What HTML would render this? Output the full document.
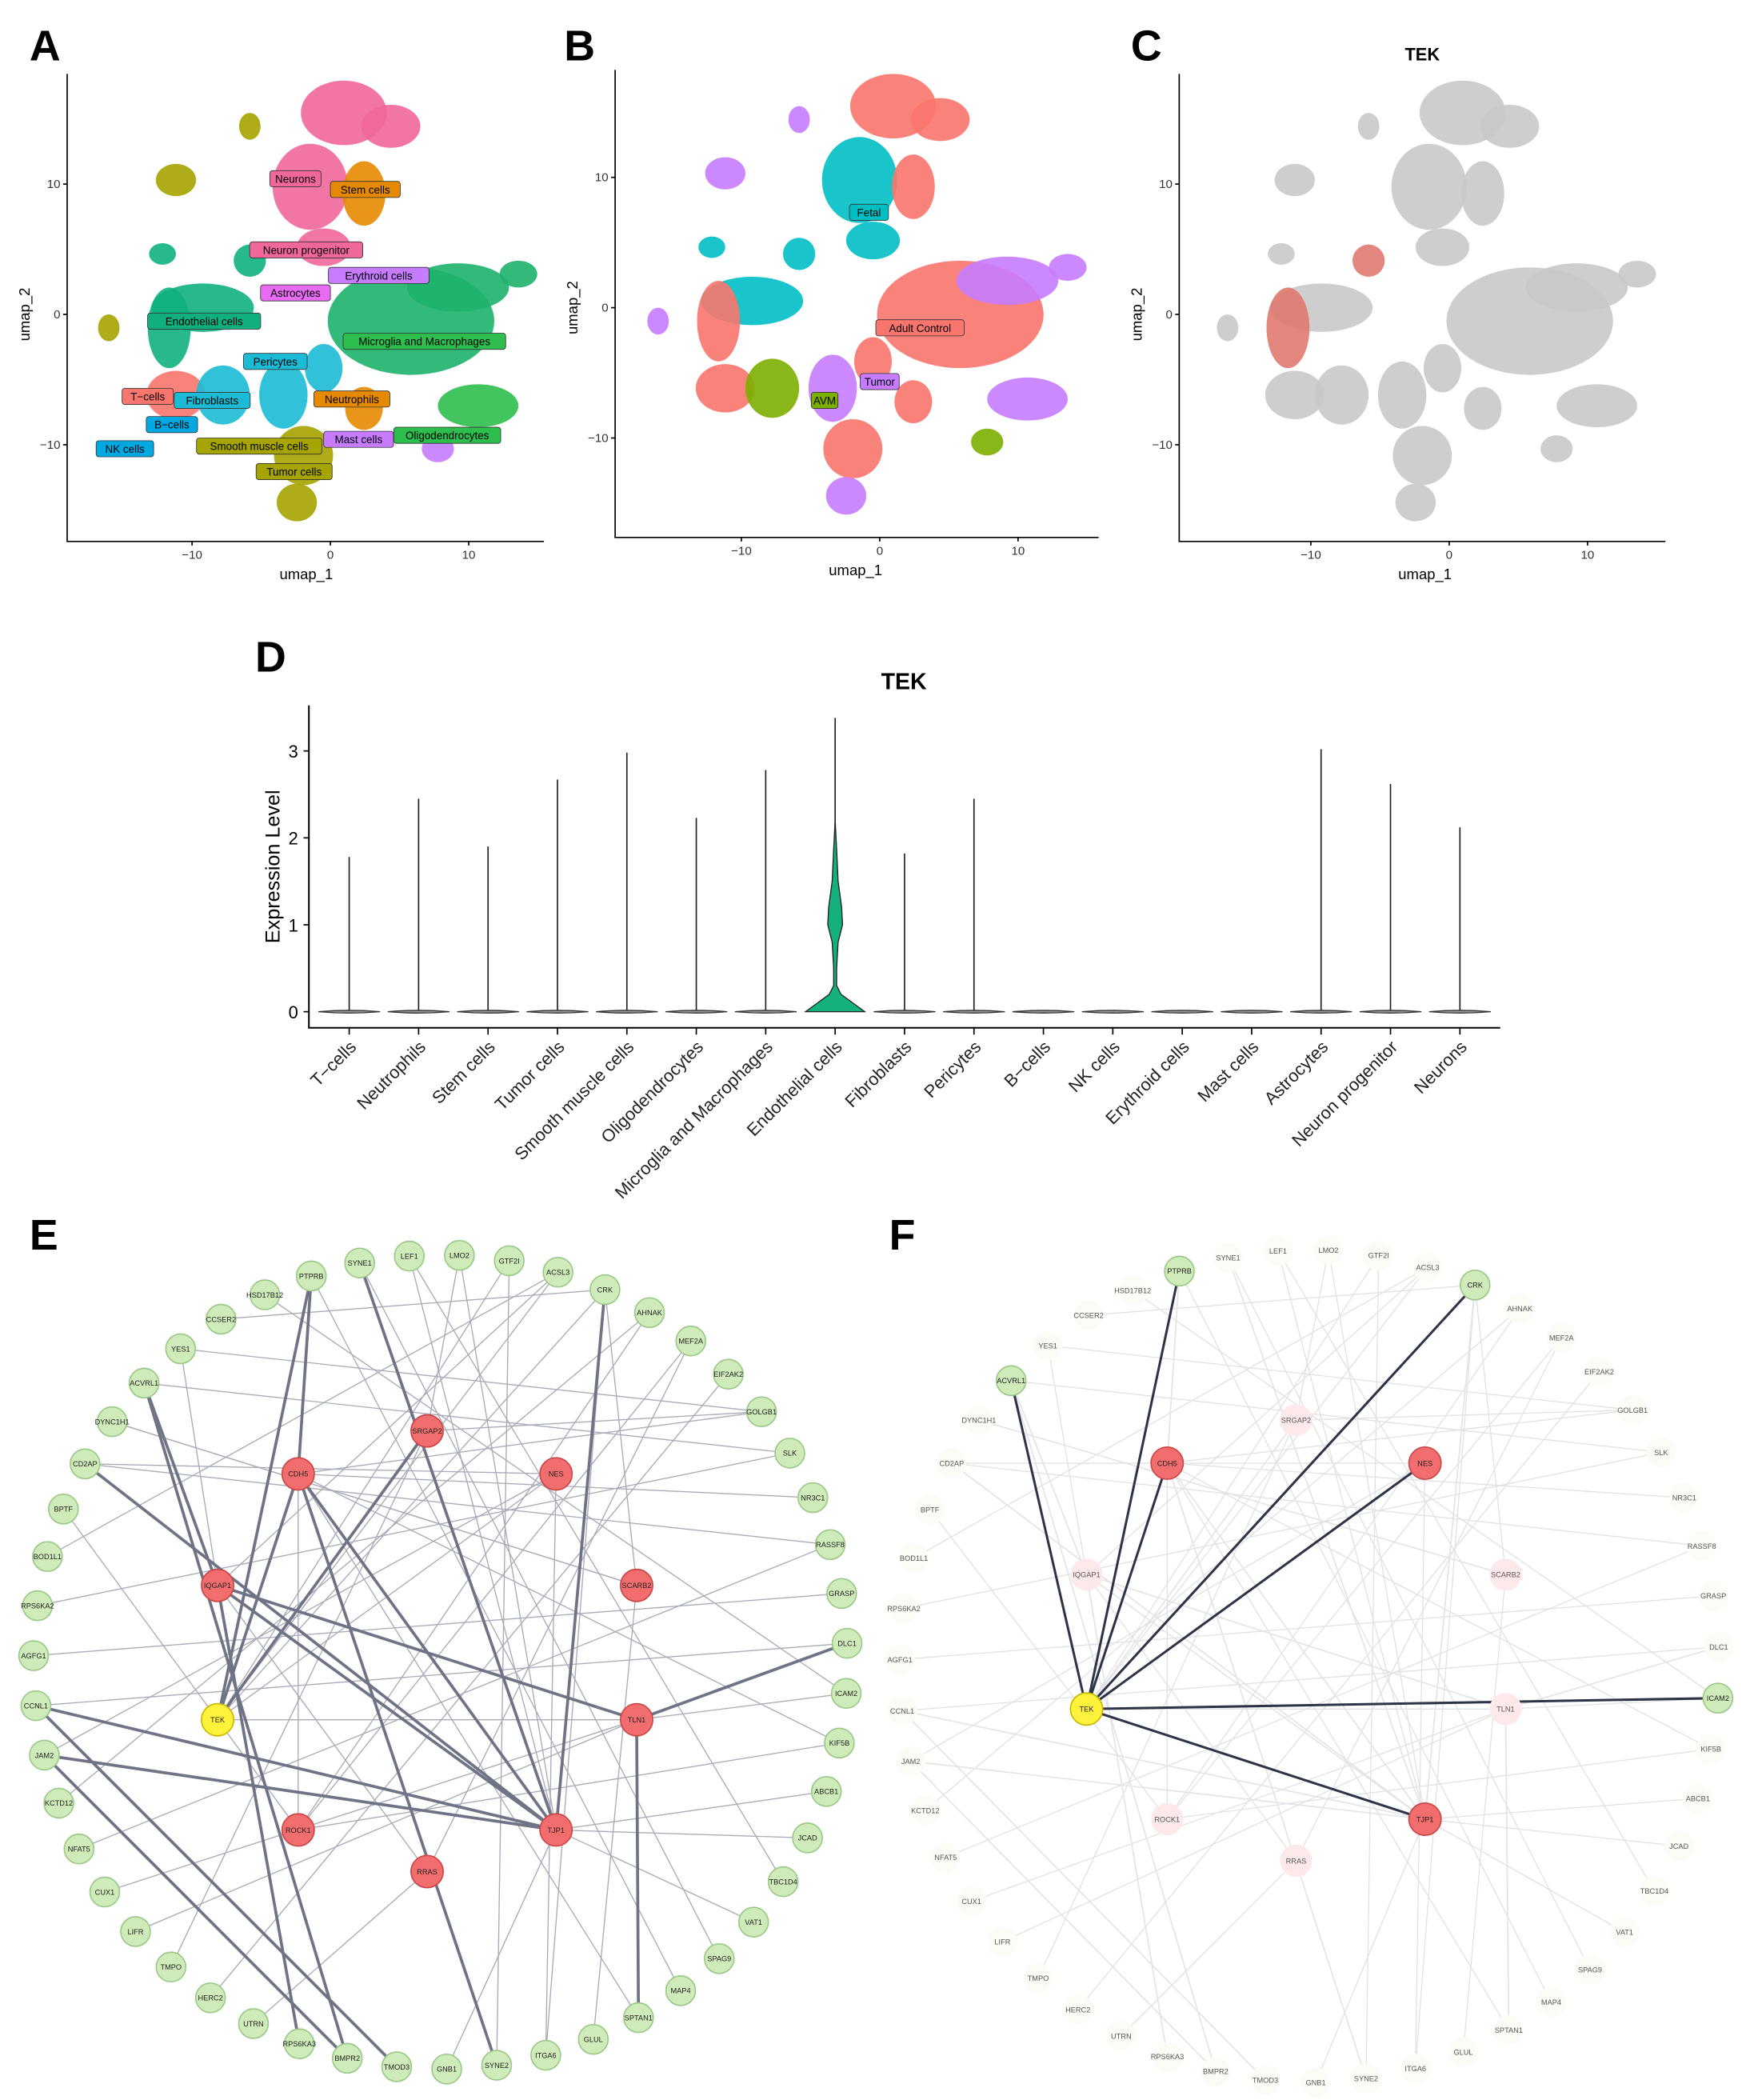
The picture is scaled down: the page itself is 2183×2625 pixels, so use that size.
<!DOCTYPE html>
<html><head><meta charset="utf-8"><style>
html,body{margin:0;padding:0;background:#fff}
svg{display:block;font-family:"Liberation Sans",sans-serif}
</style></head><body>
<svg id="fig" width="2183" height="2625" viewBox="0 0 1300 1563" preserveAspectRatio="none" xmlns="http://www.w3.org/2000/svg">
<rect width="1300" height="1563" fill="#fff"/>
<g id="pa"></g>
<g id="pb"></g>
<g id="pc"></g>
<g id="pd"></g>
<g id="pe"></g>
<g id="pf"></g>
</svg>
<script>
// ---------- Violin data (panel D) ----------
const violinCategories=["T-cells","Neutrophils","Stem cells","Tumor cells","Smooth muscle cells","Oligodendrocytes","Microglia and Macrophages","Endothelial cells","Fibroblasts","Pericytes","B-cells","NK cells","Erythroid cells","Mast cells","Astrocytes","Neuron progenitor","Neurons"];
const violinMax=[1.78,2.45,1.9,2.67,2.98,2.23,2.78,3.38,1.82,2.45,0,0,0,0,3.02,2.62,2.12];
const yTicks=[0,1,2,3];
const endoDensityLevels=[0,0.1,0.2,0.3,0.5,0.8,1.0,1.2,1.5,1.8,2.0,2.2];
const endoDensity=[1.0,0.6,0.2,0.05,0.05,0.1,0.25,0.22,0.1,0.06,0.03,0];

const NS="http://www.w3.org/2000/svg";
function mk(parent,tag,attrs,text){const e=document.createElementNS(NS,tag);for(const k in attrs)e.setAttribute(k,attrs[k]);if(text!==undefined)e.textContent=text;parent.appendChild(e);return e;}

// ---------- Panel letters ----------
const letters=[["A",22,45],["B",420,45],["C",842,45],["D",190,500],["E",22,930],["F",662,930]];
letters.forEach(l=>{const t=mk(document.getElementById('fig'),'text',{x:l[1],y:l[2],'font-size':32,'font-weight':'bold'},l[0]);

});

// ---------- UMAP panels ----------
const blobs=[ // dx,dy,rx,ry,colA,colB,colC
[10,-150,32,24,"#F0679B","#F8766D","#c9c9c9"],[45,-140,22,16,"#F0679B","#F8766D","#c9c9c9"],
[-15,-95,28,32,"#F0679B","#00BFC4","#c9c9c9"],[25,-90,16,24,"#E58A00","#F8766D","#c9c9c9"],
[-5,-50,20,14,"#F0679B","#00BFC4","#c9c9c9"],[60,5,62,40,"#1DB36B","#F8766D","#c9c9c9"],
[95,-20,38,18,"#1DB36B","#C77CFF","#c9c9c9"],[-95,-5,38,18,"#10B07E","#00BFC4","#c9c9c9"],
[-120,10,16,30,"#10B07E","#F8766D","#e07a70"],[-60,-40,12,12,"#10B07E","#00BFC4","#e07a70"],
[-115,60,22,18,"#F8766D","#F8766D","#c9c9c9"],[-80,60,20,22,"#1BBBD6","#7CAE00","#c9c9c9"],
[-35,60,18,25,"#1BBBD6","#C77CFF","#c9c9c9"],[-20,105,22,22,"#A5A400","#F8766D","#c9c9c9"],
[-25,140,15,14,"#A5A400","#C77CFF","#c9c9c9"],[25,70,14,16,"#E58A00","#F8766D","#c9c9c9"],
[110,68,30,16,"#2DBE4E","#C77CFF","#c9c9c9"],[80,100,12,10,"#C77CFF","#7CAE00","#c9c9c9"],
[-115,-100,15,12,"#A5A400","#C77CFF","#c9c9c9"],[-165,10,8,10,"#A5A400","#C77CFF","#c9c9c9"],
[-125,-45,10,8,"#10B07E","#00BFC4","#c9c9c9"],[-60,-140,8,10,"#A5A400","#C77CFF","#c9c9c9"],
[-5,40,14,18,"#1BBBD6","#F8766D","#c9c9c9"],[140,-30,14,10,"#1DB36B","#C77CFF","#c9c9c9"]];
const umapTicks=[-10,0,10];
function umap(gid,ox,oy,xl,xr,yt,yb,ci,labels,title){
  const g=document.getElementById(gid);
  blobs.forEach((b,i)=>{const e=mk(g,'ellipse',{cx:ox+b[0],cy:oy+b[1],rx:b[2],ry:b[3],fill:b[ci],opacity:0.9});
   });
  const ax=mk(g,'path',{d:`M${xl} ${yt}V${yb}H${xr}`,stroke:'#000',fill:'none','stroke-width':1});
  
  umapTicks.forEach(t=>{const x=ox+t*10.3;mk(g,'line',{x1:x,x2:x,y1:yb,y2:yb+3,stroke:'#000'});
   const tx=mk(g,'text',{x:x,y:yb+13,'font-size':9,'text-anchor':'middle',fill:'#333'},t===-10?'−10':t);
   
   const y=oy-t*9.7;mk(g,'line',{x1:xl-3,x2:xl,y1:y,y2:y,stroke:'#000'});
   const ty=mk(g,'text',{x:xl-5,y:y+3,'font-size':9,'text-anchor':'end',fill:'#333'},t===-10?'−10':t);
   });
  const xt=mk(g,'text',{x:ox-18,y:yb+28,'font-size':11,'text-anchor':'middle'},'umap_1');
  
  const yt2=mk(g,'text',{x:0,y:0,'font-size':11,'text-anchor':'middle',transform:`translate(${xl-28},${oy}) rotate(-90)`},'umap_2');
  
  if(title){const tt=mk(g,'text',{x:ox-20,y:45,'font-size':13,'font-weight':'bold','text-anchor':'middle'},title);
   }
  labels.forEach(l=>{const w=l[0].length*4.6+6;
   const r=mk(g,'rect',{x:l[1]-w/2,y:l[2]-6,width:w,height:12,rx:2,fill:l[3],stroke:'#333','stroke-width':0.5});
   
   const t=mk(g,'text',{x:l[1],y:l[2]+3,'font-size':8,'text-anchor':'middle'},l[0]);
   });
}
umap('pa',246,234,50,405,55,403,4,[["Neurons",220,133,"#F0679B"],["Stem cells",272,141,"#E58A00"],["Neuron progenitor",228,186,"#F0679B"],["Erythroid cells",282,205,"#C77CFF"],["Astrocytes",220,218,"#E76BF3"],["Endothelial cells",152,239,"#10B07E"],["Microglia and Macrophages",316,254,"#2DBE4E"],["Pericytes",205,269,"#1BBBD6"],["T−cells",110,295,"#F8766D"],["Fibroblasts",158,298,"#1BBBD6"],["Neutrophils",262,297,"#E58A00"],["B−cells",128,316,"#00A8E1"],["Smooth muscle cells",193,332,"#A5A400"],["Mast cells",267,327,"#C77CFF"],["Oligodendrocytes",333,324,"#2DBE4E"],["NK cells",93,334,"#00A8E1"],["Tumor cells",219,351,"#A5A400"]]);
umap('pb',655,229,458,818,52,400,5,[["Fetal",647,158,"#00BFC4"],["Adult Control",685,244,"#F8766D"],["Tumor",655,284,"#C77CFF"],["AVM",614,298,"#7CAE00"]]);
umap('pc',1079,234,878,1240,55,403,6,[],"TEK");

// ---------- Panel D violin ----------
(function(){
 const g=document.getElementById('pd');
 const x0=260,step=(1087-260)/16;const xOf=i=>x0+i*step;
 const yOf=v=>753-v*64.7;
 const ax=mk(g,'path',{d:'M230 525V765H1117',stroke:'#000',fill:'none','stroke-width':1.2});
 
 yTicks.forEach(t=>{mk(g,'line',{x1:226,x2:230,y1:yOf(t),y2:yOf(t),stroke:'#000'});
  const tx=mk(g,'text',{x:222,y:yOf(t)+5,'font-size':13,'text-anchor':'end'},t);
  });
 const yt=mk(g,'text',{x:0,y:0,'font-size':15,'text-anchor':'middle',transform:'translate(208,645) rotate(-90)'},'Expression Level');
 
 const tt=mk(g,'text',{x:673,y:513,'font-size':17,'font-weight':'bold','text-anchor':'middle'},'TEK');
 
 violinCategories.forEach((c,i)=>{const x=xOf(i);
  mk(g,'line',{x1:x,x2:x,y1:765,y2:770,stroke:'#000'});
  if(violinMax[i]>0){const l=mk(g,'line',{x1:x,x2:x,y1:yOf(0),y2:yOf(violinMax[i]),stroke:'#222','stroke-width':1});
   }
  if(c==="Endothelial cells"){
   let pts=[];endoDensityLevels.forEach((v,k)=>pts.push([x+endoDensity[k]*22,yOf(v)]));
   let d='M'+(x)+' '+yOf(0);pts.forEach(p=>d+='L'+p[0]+' '+p[1]);
   for(let k=endoDensityLevels.length-1;k>=0;k--)d+='L'+(x-endoDensity[k]*22)+' '+yOf(endoDensityLevels[k]);d+='Z';
   const v=mk(g,'path',{d:d,fill:'#14B07E',stroke:'#222','stroke-width':0.8});
   
  } else {const v=mk(g,'path',{d:`M${x-23} ${yOf(0)}Q${x} ${yOf(0)-2} ${x+23} ${yOf(0)}Q${x} ${yOf(0)+2} ${x-23} ${yOf(0)}Z`,fill:'#999',stroke:'#333','stroke-width':0.8});
   }
  const t=mk(g,'text',{x:0,y:0,'font-size':13,'text-anchor':'end',fill:'#222',transform:`translate(${x+6},${780}) rotate(-45)`},c.replace('-','−'));
  
 });
})();

// ---------- Networks ----------
const outerNodes=["SYNE1","LEF1","LMO2","GTF2I","ACSL3","CRK","AHNAK","MEF2A","EIF2AK2","GOLGB1","SLK","NR3C1","RASSF8","GRASP","DLC1","ICAM2","KIF5B","ABCB1","JCAD","TBC1D4","VAT1","SPAG9","MAP4","SPTAN1","GLUL","ITGA6","SYNE2","GNB1","TMOD3","BMPR2","RPS6KA3","UTRN","HERC2","TMPO","LIFR","CUX1","NFAT5","KCTD12","JAM2","CCNL1","AGFG1","RPS6KA2","BOD1L1","BPTF","CD2AP","DYNC1H1","ACVRL1","YES1","CCSER2","HSD17B12","PTPRB"];
const innerNodes={SRGAP2:[318,1065],CDH5:[222,1097],NES:[414,1097],IQGAP1:[162,1180],SCARB2:[474,1180],TEK:[162,1280],TLN1:[474,1280],ROCK1:[222,1362],TJP1:[414,1362],RRAS:[318,1393]};
const thinEdges=[["TEK","CRK"],["TEK","ACSL3"],["TEK","NES"],["TEK","TLN1"],["TEK","GTF2I"],["CDH5","GOLGB1"],["CDH5","NR3C1"],["CDH5","ROCK1"],["CDH5","SPTAN1"],["NES","ITGA6"],["NES","CD2AP"],["NES","JAM2"],["SRGAP2","GOLGB1"],["SRGAP2","LMO2"],["SRGAP2","TMPO"],["IQGAP1","ACSL3"],["IQGAP1","RRAS"],["IQGAP1","YES1"],["SCARB2","DYNC1H1"],["SCARB2","GLUL"],["SCARB2","CRK"],["TLN1","ICAM2"],["TLN1","CUX1"],["TLN1","LIFR"],["ROCK1","KIF5B"],["ROCK1","AHNAK"],["ROCK1","BPTF"],["TJP1","ABCB1"],["TJP1","JCAD"],["TJP1","VAT1"],["TJP1","GNB1"],["TJP1","LEF1"],["RRAS","UTRN"],["RRAS","MEF2A"],["CRK","ITGA6"],["CRK","TJP1"],["ACSL3","BOD1L1"],["EIF2AK2","HERC2"],["SLK","RPS6KA2"],["RASSF8","NFAT5"],["GRASP","AGFG1"],["DLC1","CCNL1"],["PTPRB","MAP4"],["SYNE1","SPAG9"],["LEF1","TBC1D4"],["HSD17B12","ICAM2"],["CCSER2","CRK"],["YES1","GOLGB1"],["AHNAK","KCTD12"],["MEF2A","ROCK1"],["GTF2I","SYNE2"],["LMO2","TJP1"],["ACVRL1","SLK"],["DYNC1H1","SCARB2"],["CD2AP","RASSF8"],["KIF5B","CDH5"]];
const thickEdges=[["TEK","PTPRB"],["TEK","CDH5"],["CDH5","PTPRB"],["IQGAP1","ACVRL1"],["IQGAP1","TLN1"],["IQGAP1","TJP1"],["CD2AP","TJP1"],["CCNL1","TJP1"],["JAM2","TJP1"],["CDH5","TJP1"],["CDH5","SYNE2"],["TLN1","DLC1"],["SRGAP2","TEK"],["TJP1","SYNE1"],["CCNL1","TMOD3"],["JAM2","BMPR2"],["IQGAP1","RPS6KA3"],["TJP1","CRK"],["TLN1","SPTAN1"],["ACVRL1","BMPR2"]];
const fThick=[["TEK","PTPRB"],["TEK","CDH5"],["TEK","CRK"],["TEK","NES"],["TEK","ACVRL1"],["TEK","ICAM2"],["TEK","TJP1"]];
const fActive=["TEK","PTPRB","CRK","ACVRL1","ICAM2","CDH5","NES","TJP1"];

function network(gid,dx,dy,cx,cy,rx,ry,isF){
 const g=document.getElementById(gid);const pos={};
 outerNodes.forEach((n,i)=>{const a=-Math.PI/2-0.2+i*2*Math.PI/outerNodes.length;pos[n]=[cx+rx*Math.cos(a),cy+ry*Math.sin(a)];});
 for(const k in innerNodes)pos[k]=[innerNodes[k][0]+dx,innerNodes[k][1]+dy];
 const line=(e,w,c,nm)=>{const a=pos[e[0]],b=pos[e[1]];const l=mk(g,'line',{x1:a[0],y1:a[1],x2:b[0],y2:b[1],stroke:c,'stroke-width':w});
  };
 thinEdges.forEach(e=>line(e,0.8,isF?'#e2e2e6':'#a8abb8','edge'));
 if(isF){thickEdges.forEach(e=>line(e,1,'#e4e4e8','edge'));fThick.forEach(e=>line(e,1.8,'#2e3448','edge-highlight'));}
 else thickEdges.forEach(e=>line(e,2.2,'#6e7386','edge-strong'));
 Object.keys(pos).forEach(n=>{const inner=n in innerNodes;const p=pos[n];
  let fill=inner?'#F26D6D':'#CFEBB9',stroke=inner?'#c94848':'#9cc98a',tc='#222',r=inner?12:11;
  if(n==='TEK'){fill='#FFF23A';stroke='#c8b800';}
  if(isF&&!fActive.includes(n)){fill=inner?'#fde9ea':'#fafcf6';stroke='none';tc='#555';}
  const c=mk(g,'circle',{cx:p[0],cy:p[1],r:r,fill:fill,stroke:stroke,'stroke-width':1});
  
  const t=mk(g,'text',{x:p[0],y:p[1]+2,'font-size':5.5,'text-anchor':'middle',fill:tc},n);
  });
}
network('pe',0,0,328,1237,303,303,false);
network('pf',647,-8,975,1240,305,310,true);
</script>
</body></html>
